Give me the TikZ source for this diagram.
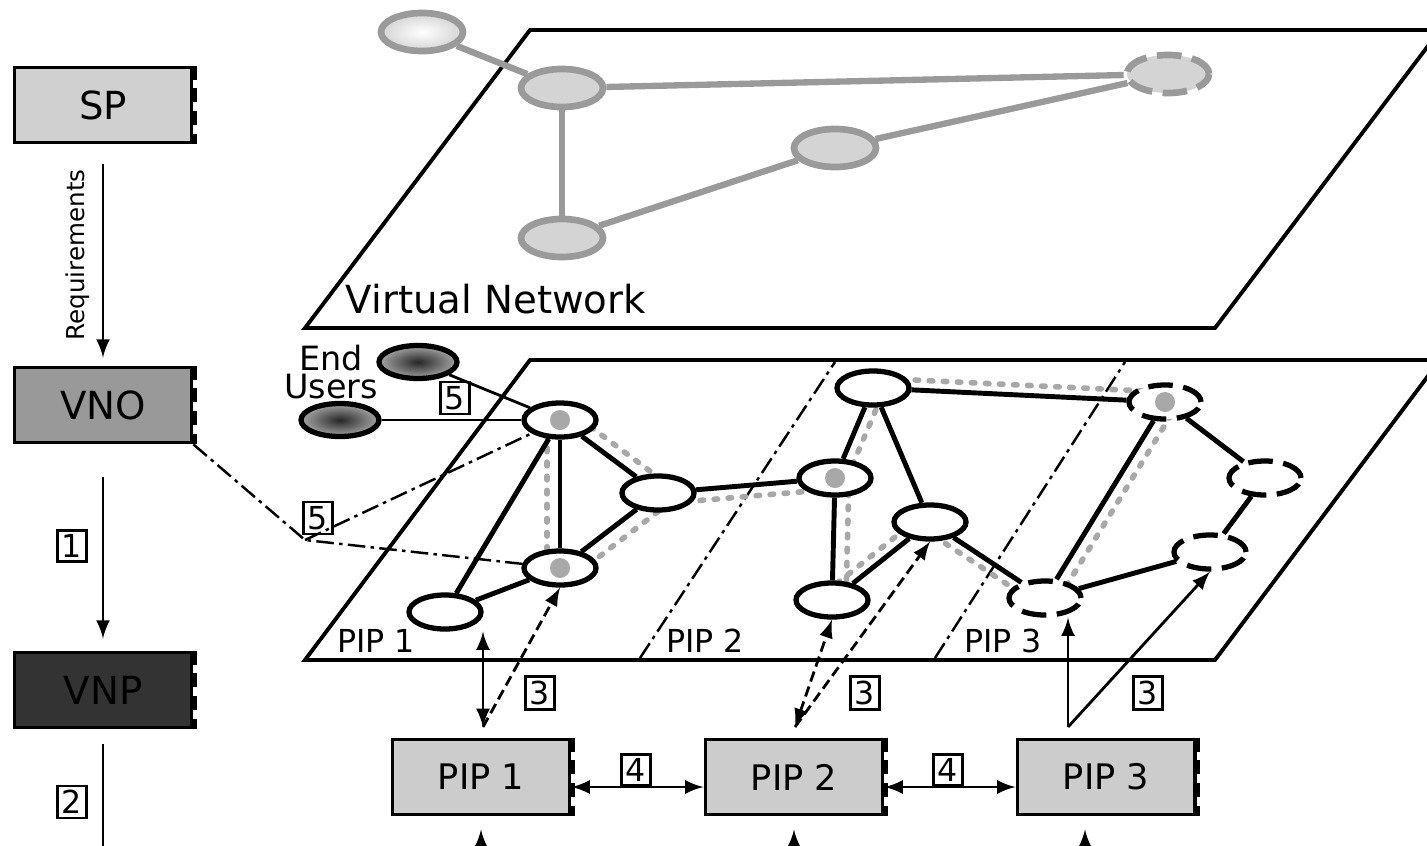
\documentclass[tikz,border=0pt]{standalone}
\usepackage{fontspec}
\setmainfont{DejaVu Sans}
\usetikzlibrary{arrows,shapes,calc,backgrounds}
\definecolor{SPGray}{HTML}{D0D0D0}
\definecolor{VNOGray}{HTML}{999999}
\definecolor{VNPGray}{HTML}{333333}
\definecolor{PIPGray}{HTML}{CCCCCC}
\definecolor{VLink}{HTML}{9A9A9A}
\definecolor{VFill}{HTML}{D4D4D4}
\definecolor{MapGray}{HTML}{A8A8A8}
\tikzset{
    block/.style = {draw, rectangle, line width=1.1pt,
        minimum height=0.75cm,
        minimum width=1.77cm, font=\fontsize{11}{13}\selectfont},
    pip/.style = {block, fill=PIPGray, font=\fontsize{10}{12}\selectfont},
    vnode/.style = {draw=VLink, fill=VFill, ellipse, line width=1.9pt,
        minimum width=0.82cm, minimum height=0.38cm, inner sep=0pt},
    snode/.style = {draw, fill=white, ellipse, line width=1.5pt,
        minimum width=0.72cm, minimum height=0.34cm, inner sep=0pt},
    gapnode/.style = {snode, dash pattern=on 7pt off 3pt},
    user/.style = {draw, ellipse, line width=1.5pt, shading=radial,
        inner color=black!85, outer color=black!35,
        minimum width=0.78cm, minimum height=0.33cm, inner sep=0pt},
    arrow/.style = {draw, -latex, line width=0.8pt},
    num/.style = {draw, line width=0.8pt, inner sep=1.2pt, font=\fontsize{9}{10}\selectfont},
    vlink/.style = {draw=VLink, line width=1.8pt},
    slink/.style = {draw, line width=1.4pt},
    maplink/.style = {draw=MapGray, line width=1.6pt, line cap=round, dash pattern=on 1pt off 3pt},
    plane/.style = {draw, line width=1.1pt},
    split/.style = {draw, line width=0.7pt, dash pattern=on 5pt off 1.5pt on 1pt off 1.5pt}
}

\begin{document}
\begin{tikzpicture}[x=0.01cm, y=-0.01cm]
\useasboundingbox (0,0) rectangle (1427,845);

% left column
\node[block, fill=SPGray] (sp) at (103,105) {SP};
\node[block, fill=VNOGray] (vno) at (103,405) {VNO};
\node[block, fill=VNPGray] (vnp) at (103,690) {VNP};
\coordinate (vnpout) at (103,870);
\foreach \b in {sp,vno,vnp}
    \draw[line width=1.8pt, dash pattern=on 4pt off 2.5pt] (\b.north east) -- (\b.south east);
\draw[arrow, shorten <=0.2cm, shorten >=0.08cm] (sp) -- (vno)
    node[midway, rotate=90, anchor=south, font=\fontsize{7}{8}\selectfont] {Requirements};
\draw[arrow, shorten <=0.33cm, shorten >=0.12cm] (vno) -- (vnp);
\draw[line width=0.8pt, shorten <=0.15cm] (vnp) -- (vnpout);
\node[num] (m1) at (72,546) {1};
\node[num] (m2) at (72,802) {2};

% virtual network
\node[vnode, shading=radial, inner color=white, outer color=VFill] (va) at (422,32) {};
\node[vnode] (vb) at (562,88) {};
\node[vnode, dash pattern=on 7pt off 3pt] (vc) at (1168,74) {};
\node[vnode] (vd) at (835,148) {};
\node[vnode] (ve) at (562,238) {};
\node[anchor=base west, inner sep=0pt, font=\fontsize{11}{13}\selectfont] (vntext) at (345,313) {Virtual Network};

% substrate network
\node[snode] (n1) at (560,420) {};
\node[snode] (n2) at (560,568) {};
\node[snode] (n3) at (445,612) {};
\node[snode] (n4) at (658,493) {};
\node[snode] (n5) at (835,478) {};
\node[snode] (n6) at (873,388) {};
\node[snode] (n7) at (930,522) {};
\node[snode] (n8) at (832,600) {};
\node[gapnode] (n9) at (1165,402) {};
\node[gapnode] (n10) at (1265,478) {};
\node[gapnode] (n11) at (1210,552) {};
\node[gapnode] (n12) at (1045,598) {};
\foreach \n in {n1,n2,n5,n9}
    \fill[MapGray] (\n) circle (0.1cm);
\node[font=\fontsize{9}{11}\selectfont, inner sep=0pt] (pl1) at (376,641) {PIP 1};
\node[font=\fontsize{9}{11}\selectfont, inner sep=0pt] (pl2) at (705,641) {PIP 2};
\node[font=\fontsize{9}{11}\selectfont, inner sep=0pt] (pl3) at (1003,641) {PIP 3};

% end users
\node[user] (u1) at (418,362) {};
\node[user] (u2) at (340,420) {};
\node[align=center, inner sep=0pt, font=\fontsize{9.5}{8}\selectfont] (eu) at (331,372) {End\\Users};
\draw[line width=0.8pt] (u1) -- (n1);
\draw[line width=0.8pt] (u2) -- (n1);
\node[num] (m5a) at (455,398) {5};

% VNO assignment
\coordinate (split) at (305,540);
\draw[split] (vno.south east) -- (split) -- (n2);
\draw[split] (split) -- (n1);
\node[num] (m5b) at (318,518) {5};

% PIPs
\node[pip] (p1) at (481,777) {PIP 1};
\node[pip] (p2) at (794,777) {PIP 2};
\node[pip] (p3) at (1106,777) {PIP 3};
\foreach \b in {p1,p2,p3}
    \draw[line width=1.8pt, dash pattern=on 4pt off 2.5pt] (\b.north east) -- (\b.south east);
\draw[arrow, latex-latex] ([yshift=-0.1cm]p1.east) -- ([yshift=-0.1cm]p2.west);
\draw[arrow, latex-latex] ([yshift=-0.1cm]p2.east) -- ([yshift=-0.1cm]p3.west);
\node[num] (m4a) at (636,770) {4};
\node[num] (m4b) at (948,770) {4};

\coordinate (j1) at (483,727);
\coordinate (j2) at (795,727);
\coordinate (j3) at (1068,727);
\draw[arrow, latex-latex] (j1) -- (j1 |- n3.south);
\draw[arrow, dash pattern=on 3pt off 1.5pt] (j1) -- (n2.south);
\draw[arrow, latex-latex, dash pattern=on 3pt off 1.5pt] (j2) -- (n8.south);
\draw[arrow, dash pattern=on 3pt off 1.5pt] (j2) -- (n7.south);
\draw[arrow] (j3) -- (j3 |- n12.south);
\draw[arrow] (j3) -- (n11.south);
\node[num] (m3a) at (540,693) {3};
\node[num] (m3b) at (865,693) {3};
\node[num] (m3c) at (1148,693) {3};

% arrows entering from below
\coordinate (b1) at (481,880);
\coordinate (b2) at (794,880);
\coordinate (b3) at (1085,880);
\draw[arrow, shorten >=0.13cm] (b1) -- (p1);
\draw[arrow, shorten >=0.13cm] (b2) -- (p2);
\draw[arrow, shorten >=0.13cm] (b3) -- (b3 |- p3.south);

\begin{scope}[on background layer]
    % planes
    \draw[plane] (305,328) -- (530,30) -- (1440,30) -- (1215,328) -- cycle;
    \draw[plane] (305,660) -- (530,360) -- (1440,360) -- (1215,660) -- cycle;
    \draw[split] (640,658) -- (835,362);
    \draw[split] (935,658) -- (1125,362);
    % virtual links
    \foreach \a/\b in {va/vb, vb/vc, vb/ve, ve/vd, vd/vc}
        \draw[vlink] (\a) -- (\b);
    % mapped links
    \foreach \a/\b/\dx/\dy in {n1/n2/-13/0, n1/n4/8/-10, n2/n4/6/14, n4/n5/0/11,
        n5/n6/12/0, n6/n9/0/-10, n5/n8/14/0, n8/n7/-6/-8, n7/n12/-8/6, n12/n9/14/0}
        \draw[maplink] ([shift={(\dx,\dy)}]\a.center) -- ([shift={(\dx,\dy)}]\b.center);
    % substrate links
    \foreach \a/\b in {n1/n2, n1/n3, n1/n4, n2/n3, n2/n4, n4/n5, n5/n6, n5/n8,
        n6/n7, n7/n8, n7/n12, n6/n9, n9/n10, n10/n11, n11/n12, n12/n9}
        \draw[slink] (\a) -- (\b);
\end{scope}
\end{tikzpicture}
\end{document}
